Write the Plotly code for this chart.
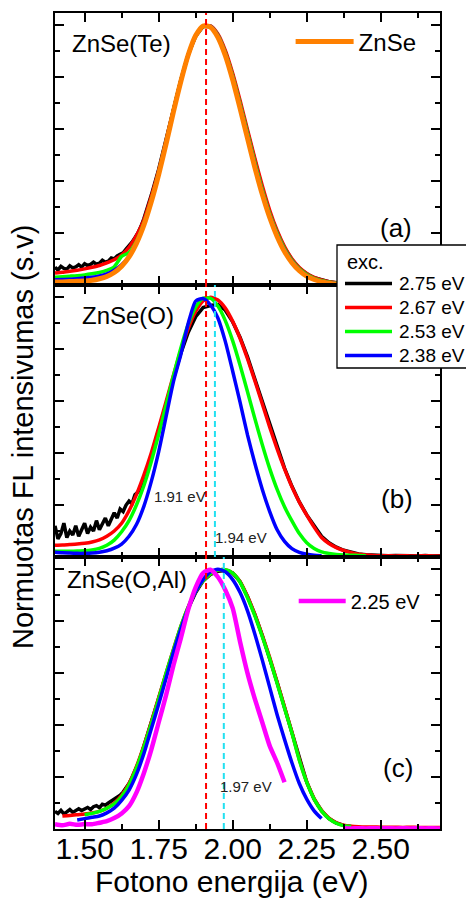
import plotly.graph_objects as go
from plotly.subplots import make_subplots

# Shared photon-energy grid (eV) for the spectra, 0.025 eV step
E = [round(1.40 + 0.025 * k, 3) for k in range(53)]
# Finer grid for the noisy low-energy tails of the 2.75 eV spectra
E_TAIL = [round(1.40 + 0.01 * k, 2) for k in range(30)]

EXC_LABELS = ["2.75 eV", "2.67 eV", "2.53 eV", "2.38 eV"]
EXC_COLORS = ["#000000", "#ff0000", "#00ff00", "#0000ff"]
X_TICKS = [1.50, 1.75, 2.00, 2.25, 2.50]
X_TICK_TEXT = ["1.50", "1.75", "2.00", "2.25", "2.50"]

# ---------------- (a) ZnSe(Te) ----------------
BLACK_A_TAIL = [.068, .058, .072, .064, .061, .074, .066, .07, .078, .069,
                .082, .075, .079, .088, .08, .084, .095, .088, .092, .104,
                .1, .112, .118, .124, .138, .15, .165, .182, .2, .225]
BLACK_A = [.255, .345, .445, .56, .68, .79, .888, .958, .995, .995,
           .962, .897, .807, .70, .588, .475, .37, .278, .203, .143,
           .098, .065, .043, .028, .019, .013, .009, .007, .006, .005,
           .005, .004, .004]  # from 1.70 eV
RED_A = [.046, .049, .053, .057, .062, .068, .075, .085, .097, .115,
         .145, .19, .25, .34, .44, .555, .675, .785, .885, .957,
         .995, .997, .966, .903, .815, .71, .598, .487, .382, .288,
         .21, .148, .101, .067, .044, .029, .019, .013, .009, .007,
         .006, .005, .005, .004, .004]
GREEN_A = [.03, .032, .034, .036, .039, .043, .048, .056, .07, .11,
           .125, .168, .237, .327, .432, .55, .672, .787, .886, .958,
           .996, .996, .962, .895, .805, .698, .585, .472, .367, .275,
           .2, .14, .095, .062, .04, .026, .017, .011, .008, .006,
           .005, .004, .004, .004, .004]
BLUE_A = [.02, .021, .022, .024, .027, .03, .035, .043, .057, .078,
          .11, .16, .232, .323, .43, .548, .67, .786, .886, .959,
          .997, .996, .96, .89, .798, .69, .576, .462, .358, .268,
          .194, .135, .091, .059, .037, .023, .014, .009, .006, .004,
          .003]
ORANGE_A = [.012, .012, .013, .014, .015, .018, .024, .033, .048, .072,
            .108, .16, .23, .32, .425, .543, .667, .784, .886, .96,
            .997, .993, .954, .884, .79, .68, .565, .452, .349, .26,
            .187, .129, .086, .055, .034, .021, .012, .007, .004, .003,
            .002]

# ---------------- (b) ZnSe(O) ----------------
BLACK_B_TAIL = [.12, .07, .09, .13, .075, .10, .085, .12, .08, .105,
                .13, .09, .115, .10, .14, .105, .125, .15, .12, .145,
                .17, .15, .185, .175, .2, .215, .205, .24, .25, .27]
BLACK_B = [.30, .39, .49, .59, .69, .785, .865, .925, .96, .968,
           .972, .95, .905, .845, .77, .685, .594, .505, .42, .342,
           .272, .212, .162, .118, .08, .055, .038, .026, .018, .012,
           .009, .007, .006, .005, .006, .004, .005, .004, .006, .004,
           .005]  # from 1.70 eV
RED_B = [.045, .046, .048, .05, .053, .058, .066, .08, .1, .13,
         .178, .24, .315, .40, .497, .598, .70, .796, .88, .945,
         .986, 1.0, .989, .958, .907, .841, .763, .678, .589, .50,
         .416, .339, .27, .211, .161, .115, .075, .052, .036, .025,
         .017, .011, .008, .006, .005, .005, .004, .005, .004, .004,
         .005, .004, .004]
GREEN_B = [.022, .022, .022, .023, .024, .027, .033, .045, .065, .097,
           .14, .2, .275, .367, .471, .584, .698, .805, .896, .962,
           .996, .996, .966, .91, .832, .738, .636, .532, .432, .34,
           .26, .193, .139, .09, .055, .033, .02, .014, .01, .008,
           .007, .006, .005]
BLUE_B = [.018, .016, .015, .014, .014, .015, .018, .024, .034, .05,
          .08, .125, .195, .29, .405, .54, .675, .78, .9, .985,
          .995, .97, .92, .83, .715, .595, .47, .36, .26, .175,
          .105, .06, .032, .018, .011, .007, .005]

# ---------------- (c) ZnSe(O,Al) ----------------
BLACK_C_TAIL = [.068, .06, .072, .058, .066, .075, .064, .07, .078, .071,
                .076, .083, .075, .086, .09, .082, .095, .092, .1, .108,
                .112, .12, .13, .142, .158, .175, .198, .222, .25, .282]
BLACK_C = [.32, .41, .50, .595, .685, .775, .85, .91, .955, .98,
           .992, .995, .985, .952, .895, .825, .745, .66, .565, .468,
           .37, .266, .18, .115, .07, .04, .023, .014, .01]  # from 1.70 eV
RED_C = [.05, .052, .055, .058, .062, .068, .08, .1, .13, .175,
         .24, .32, .41, .505, .60, .692, .78, .855, .915, .955,
         .982, .996, .998, .985, .952, .895, .825, .745, .66, .565,
         .47, .372, .268, .182, .117, .072, .042, .024, .015, .011,
         .009, .008, .008, .007, .007, .007, .006, .007, .006, .006,
         .006, .006]  # from 1.425 eV
GREEN_C = [.055, .06, .068, .08, .097, .125, .17, .235, .315, .405,
           .50, .60, .69, .78, .855, .915, .955, .982, .997, .998,
           .985, .95, .89, .82, .74, .655, .56, .465, .37, .265,
           .18, .115, .07, .04, .022, .013, .01]  # from 1.50 eV
BLUE_C = [.035, .04, .045, .05, .062, .08, .11, .15, .21, .29,
          .385, .48, .58, .68, .77, .85, .915, .96, .99, 1.0,
          .99, .96, .91, .84, .75, .65, .545, .44, .345, .255,
          .175, .115, .07, .04]  # from 1.475 eV
MAGENTA_C = [.018, .014, .02, .016, .019, .018, .024, .03, .042, .06,
             .088, .14, .215, .305, .41, .515, .63, .735, .845, .93,
             .985, .998, .97, .92, .85, .72, .60, .50, .41, .32,
             .255, .18]
MAGENTA_C_BASE = [.006, .005, .006, .005, .006, .005, .006, .005, .006,
                  .005, .006, .005, .006, .005]  # from 2.375 eV

# Peak-position markers (eV) per panel
PEAKS = {1: [(1.91, "#ff0000")],
         2: [(1.91, "#ff0000"), (1.94, "#22e0f0")],
         3: [(1.91, "#ff0000"), (1.97, "#22e0f0")]}

FONT = "Liberation Sans, Arial, sans-serif"

# plot-area geometry in pixels (used for the framed legend)
L, R, T, B, W, H = 55, 26, 13, 69, 466, 898


def px_x(p):
    return (p - L) / (W - L - R)


def px_y(p):
    return (H - B - p) / (H - T - B)


def grid(values, start=0):
    return E[start:start + len(values)], values


def tail_and_grid(tail, values, start=12):
    return E_TAIL + E[start:start + len(values)], tail + values


fig = make_subplots(rows=3, cols=1, vertical_spacing=0)


def add(xy, color, row, width=3.5, name=None, legend=None, shape="spline"):
    x, y = xy
    fig.add_trace(go.Scatter(
        x=x, y=y, mode="lines", name=name,
        line=dict(color=color, width=width, shape=shape, smoothing=0.6),
        showlegend=legend is not None, legend=legend or "legend",
    ), row=row, col=1)


# (a)
add(tail_and_grid(BLACK_A_TAIL, BLACK_A), EXC_COLORS[0], 1, shape="linear")
add(grid(RED_A), EXC_COLORS[1], 1)
add(grid(GREEN_A), EXC_COLORS[2], 1)
add(grid(BLUE_A), EXC_COLORS[3], 1)
add(grid(ORANGE_A), "#ff8000", 1, width=5, name="ZnSe", legend="legend2")
# (b)
add(tail_and_grid(BLACK_B_TAIL, BLACK_B), EXC_COLORS[0], 2, shape="linear")
add(grid(RED_B), EXC_COLORS[1], 2)
add(grid(GREEN_B), EXC_COLORS[2], 2)
add(grid(BLUE_B), EXC_COLORS[3], 2)
# (c)
add(tail_and_grid(BLACK_C_TAIL, BLACK_C), EXC_COLORS[0], 3, shape="linear")
add(grid(RED_C, 1), EXC_COLORS[1], 3)
add(grid(GREEN_C, 4), EXC_COLORS[2], 3)
add(grid(BLUE_C, 3), EXC_COLORS[3], 3)
add(grid(MAGENTA_C), "#ff00ff", 3, width=4.5, name="2.25 eV", legend="legend3")
add(grid(MAGENTA_C_BASE, 39), "#ff00ff", 3, width=3)

# dashed peak markers
for row, marks in PEAKS.items():
    for e0, col in marks:
        fig.add_shape(type="line", x0=e0, x1=e0, y0=0, y1=1,
                      xref="x" if row == 1 else f"x{row}",
                      yref="y domain" if row == 1 else f"y{row} domain",
                      line=dict(color=col, width=2, dash="6px,4px"))

axis_common = dict(showline=True, linecolor="black", linewidth=2, mirror="allticks",
                   ticks="inside", ticklen=9, tickwidth=1.5, tickcolor="black",
                   showgrid=False, zeroline=False)
for r in (1, 2, 3):
    fig.update_xaxes(range=[1.40, 2.70], tickmode="array", tickvals=X_TICKS,
                     ticktext=X_TICK_TEXT,
                     minor=dict(ticks="inside", ticklen=5, tickwidth=1.5, tickcolor="black",
                                tick0=1.5, dtick=0.125, showgrid=False),
                     showticklabels=(r == 3), ticklabelstandoff=-8,
                     tickfont=dict(family=FONT, size=30, color="black"),
                     row=r, col=1, **axis_common)
    fig.update_yaxes(range=[0, 1.047], tick0=0, dtick=0.2,
                     minor=dict(ticks="inside", ticklen=5, tickwidth=1.5, tickcolor="black",
                                tick0=0, dtick=0.1, showgrid=False),
                     showticklabels=False, row=r, col=1, **axis_common)

fig.update_layout(
    yaxis=dict(domain=[2 / 3, 1]), yaxis2=dict(domain=[1 / 3, 2 / 3]),
    yaxis3=dict(domain=[0, 1 / 3]),
)


def ann(text, x, y, row, size, xanchor="left", color="black"):
    fig.add_annotation(text=text, x=x, y=y, xref="x" if row == 1 else f"x{row}",
                       yref="y" if row == 1 else f"y{row}", showarrow=False,
                       xanchor=xanchor, yanchor="middle",
                       font=dict(family=FONT, size=size, color=color))


ann("ZnSe(Te)", 1.451, 0.93, 1, 24)
ann("ZnSe(O)", 1.484, 0.93, 2, 24)
ann("ZnSe(O,Al)", 1.434, 0.961, 3, 24)
ann("(a)", 2.553, 0.22, 1, 26, "center")
ann("(b)", 2.556, 0.224, 2, 26, "center")
ann("(c)", 2.558, 0.236, 3, 26, "center")
ann("1.91 eV", 1.916, 0.232, 2, 15, "right", "#222")
ann("1.94 eV", 1.935, 0.075, 2, 15, "left", "#222")
ann("1.97 eV", 1.950, 0.163, 3, 15, "left", "#222")

fig.add_annotation(text="Normuotas FL intensivumas (s.v)", x=px_x(23), y=px_y(437),
                   xref="paper", yref="paper", showarrow=False, textangle=-90,
                   xanchor="center", yanchor="middle",
                   font=dict(family=FONT, size=29, color="black"))
fig.add_annotation(text="Fotono energija (eV)", x=px_x(232), y=px_y(881),
                   xref="paper", yref="paper", showarrow=False,
                   xanchor="center", yanchor="middle",
                   font=dict(family=FONT, size=30, color="black"))

# framed legend for the excitation energies (box runs past the right edge)
fig.add_shape(type="rect", xref="paper", yref="paper",
              x0=px_x(337), x1=px_x(480), y0=px_y(368), y1=px_y(245),
              fillcolor="white", line=dict(color="black", width=1.3), layer="above")
fig.add_annotation(text="exc.", x=px_x(345), y=px_y(262), xref="paper", yref="paper",
                   showarrow=False, xanchor="left", yanchor="middle",
                   font=dict(family=FONT, size=20, color="black"))
for i, (lab, col) in enumerate(zip(EXC_LABELS, EXC_COLORS)):
    yc = px_y(283.5 + 24 * i)
    fig.add_shape(type="line", xref="paper", yref="paper", x0=px_x(345), x1=px_x(392),
                  y0=yc, y1=yc, line=dict(color=col, width=3.5), layer="above")
    fig.add_annotation(text=lab, x=px_x(397), y=yc, xref="paper", yref="paper",
                       showarrow=False, xanchor="left", yanchor="middle",
                       font=dict(family=FONT, size=19, color="black"))

fig.update_layout(
    width=W, height=H,
    margin=dict(l=L, r=R, t=T, b=B, autoexpand=False),
    paper_bgcolor="white", plot_bgcolor="white",
    font=dict(family=FONT, color="black"),
    legend2=dict(x=0.612, y=px_y(42), xanchor="left", yanchor="middle",
                 bgcolor="rgba(0,0,0,0)", borderwidth=0, itemwidth=58,
                 font=dict(family=FONT, size=24)),
    legend3=dict(x=0.62, y=px_y(601), xanchor="left", yanchor="middle",
                 bgcolor="rgba(0,0,0,0)", borderwidth=0, itemwidth=47,
                 font=dict(family=FONT, size=20)),
)

fig.write_html("out.html")
